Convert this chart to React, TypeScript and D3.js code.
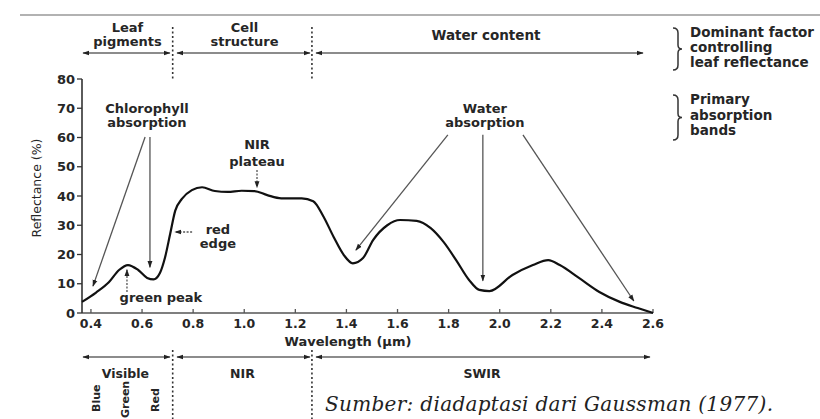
import React from 'react';
import * as d3 from 'd3';

// spectral reflectance of green leaf
const wavelength = [0.365, 0.42, 0.47, 0.51, 0.545, 0.585, 0.62, 0.645, 0.67, 0.69, 0.71, 0.73, 0.756, 0.795, 0.835, 0.885, 0.935, 0.99, 1.04, 1.09, 1.145, 1.225, 1.27, 1.31, 1.35, 1.39, 1.425, 1.465, 1.505, 1.56, 1.61, 1.675, 1.73, 1.78, 1.83, 1.88, 1.92, 1.96, 2.05, 2.13, 2.19, 2.235, 2.31, 2.39, 2.47, 2.54, 2.6];
const reflectance = [3.8, 7, 10.5, 14.7, 16.4, 14.7, 12, 11.5, 13.7, 19, 27, 35, 39, 42, 43, 41.7, 41.4, 41.8, 41.7, 40.3, 39.2, 39.2, 38.2, 33, 26, 19.8, 17, 18.8, 25, 30, 31.8, 31.5, 29, 24.3, 18, 11.3, 7.9, 7.5, 13, 16.4, 18.1, 16.4, 12, 7.2, 3.8, 1.7, 0];

const xTicks = [0.4, 0.6, 0.8, 1.0, 1.2, 1.4, 1.6, 1.8, 2.0, 2.2, 2.4, 2.6];
const yTicks = [0, 10, 20, 30, 40, 50, 60, 70, 80];

const dividers = [0.72, 1.265];
const factorLabels = [['Leaf', 'pigments'], ['Cell', 'structure'], ['Water content']];
const factorSpans = [[0.369, 0.709], [0.737, 1.257], [1.281, 2.561]];
const regionLabels = ['Visible', 'NIR', 'SWIR'];
const regionSpans = [[0.369, 0.709], [0.737, 1.257], [1.281, 2.588]];
const colorLabels = ['Blue', 'Green', 'Red'];
const colorPos = [0.418, 0.535, 0.652];

const font = '"DejaVu Sans", sans-serif';
const ink = '#262626';

export default function App() {
  const x = d3.scaleLinear().domain([0.365, 2.6]).range([82, 653]);
  const y = d3.scaleLinear().domain([0, 80]).range([313, 79]);

  const line = d3.line<number>()
    .x((d, i) => x(wavelength[i]))
    .y((d) => y(d))
    .curve(d3.curveMonotoneX);

  const brace = (x0: number, y0: number, y1: number) => {
    const x1 = x0 + 5, x2 = x0 + 9, ym = (y0 + y1) / 2;
    return `M${x0},${y0} Q${x1},${y0} ${x1},${y0 + 5} L${x1},${ym - 4} Q${x1},${ym} ${x2},${ym} Q${x1},${ym} ${x1},${ym + 4} L${x1},${y1 - 5} Q${x1},${y1} ${x0},${y1}`;
  };

  const txt = (s: string, px: number, py: number, size = 13, anchor = 'middle') => (
    <text key={s + px + py} x={px} y={py} fontSize={size} fontWeight="bold" textAnchor={anchor} fill={ink} fontFamily={font}>{s}</text>
  );

  const arrow = (w0: number, v0: number, w1: number, v1: number, dash?: string) => (
    <line key={`${w0}-${v0}-${w1}`} x1={x(w0)} y1={y(v0)} x2={x(w1)} y2={y(v1)} stroke="#555" strokeWidth={1.3} strokeDasharray={dash} markerEnd="url(#ah)" />
  );

  return (
    <svg width={820} height={419} style={{ position: 'absolute', left: 0, top: 0, background: '#fff' }}>
      <defs>
        <marker id="ah" viewBox="0 0 10 10" refX={9} refY={5} markerWidth={7} markerHeight={7} orient="auto-start-reverse" markerUnits="userSpaceOnUse">
          <path d="M0,1.5 L10,5 L0,8.5 Z" fill="#222" />
        </marker>
      </defs>

      <line x1={20} x2={820} y1={15} y2={15} stroke="#999" strokeWidth={1.5} />

      {/* dominant factor bands */}
      {factorSpans.map(([a, b], i) => (
        <g key={'f' + i}>
          <line x1={x(a)} x2={x(b)} y1={53} y2={53} stroke="#666" strokeWidth={1.3} markerStart="url(#ah)" markerEnd="url(#ah)" />
          {factorLabels[i].length === 2
            ? [txt(factorLabels[i][0], x((a + b) / 2) + 1, 32, 13), txt(factorLabels[i][1], x((a + b) / 2) + 1, 46, 13)]
            : txt(factorLabels[i][0], 486, 40, 13.5)}
        </g>
      ))}
      {dividers.map((d) => (
        <g key={'d' + d}>
          <line x1={x(d)} x2={x(d)} y1={27} y2={80} stroke="#333" strokeWidth={1.6} strokeDasharray="2,2.5" />
          <line x1={x(d)} x2={x(d)} y1={350} y2={419} stroke="#333" strokeWidth={1.6} strokeDasharray="2,2.5" />
        </g>
      ))}

      {/* right side legend */}
      <path d={brace(673, 28, 70)} fill="none" stroke="#333" strokeWidth={1.5} />
      <path d={brace(673, 95, 140)} fill="none" stroke="#333" strokeWidth={1.5} />
      {txt('Dominant factor', 690, 37, 13.5, 'start')}
      {txt('controlling', 690, 52, 13.5, 'start')}
      {txt('leaf reflectance', 690, 67, 13.5, 'start')}
      {txt('Primary', 690, 104, 13.5, 'start')}
      {txt('absorption', 690, 120, 13.5, 'start')}
      {txt('bands', 690, 135, 13.5, 'start')}

      {/* axes */}
      <line x1={x(0.365)} x2={x(2.6)} y1={y(0)} y2={y(0)} stroke="#555" strokeWidth={1.5} />
      {xTicks.map((t) => (
        <g key={'xt' + t}>
          <line x1={x(t)} x2={x(t)} y1={y(0)} y2={y(0) - 4} stroke="#555" strokeWidth={1.3} />
          {txt(d3.format('.1f')(t), x(t), 328, 12.5)}
        </g>
      ))}
      <line x1={82} x2={82} y1={y(0)} y2={y(80)} stroke="#333" strokeWidth={1.6} />
      {yTicks.map((t) => (
        <g key={'yt' + t}>
          <line x1={77} x2={82} y1={y(t)} y2={y(t)} stroke="#333" strokeWidth={1.3} />
          <text x={75} y={y(t)} dy="0.36em" fontSize={13} fontWeight="bold" textAnchor="end" fill={ink} fontFamily={font}>{t}</text>
        </g>
      ))}
      <text transform={`translate(41,${(y(0) + y(80)) / 2 - 8}) rotate(-90)`} textAnchor="middle" fontSize={12.5} fill={ink} fontFamily={font}>Reflectance (%)</text>
      {txt('Wavelength (µm)', 348, 346, 13)}

      {/* reflectance curve */}
      <path d={line(reflectance) || ''} fill="none" stroke="#111" strokeWidth={2.2} strokeLinejoin="round" />

      {/* annotations */}
      {txt('Chlorophyll', x(0.619), 113)}
      {txt('absorption', x(0.619), 127)}
      {arrow(0.612, 60.2, 0.408, 9.2)}
      {arrow(0.631, 60.2, 0.631, 15.6)}
      {arrow(0.541, 7.2, 0.541, 14.8, '2,1.5')}
      {txt('green peak', x(0.674), 302)}
      {arrow(0.796, 27.7, 0.729, 27.7, '2,1.5')}
      {txt('red', x(0.897), 234)}
      {txt('edge', x(0.897), 248)}
      {txt('NIR', x(1.05), 149)}
      {txt('plateau', x(1.05), 166)}
      {arrow(1.05, 48.9, 1.05, 42.9, '2,1.5')}
      {txt('Water', x(1.942), 113)}
      {txt('absorption', x(1.942), 127)}
      {arrow(1.797, 60.9, 1.437, 21.5)}
      {arrow(1.934, 60.9, 1.934, 11)}
      {arrow(2.091, 60.9, 2.525, 4.1)}

      {/* spectral regions */}
      {regionSpans.map(([a, b], i) => (
        <g key={'r' + i}>
          <line x1={x(a)} x2={x(b)} y1={357} y2={357} stroke="#666" strokeWidth={1.3} markerStart="url(#ah)" markerEnd="url(#ah)" />
          {txt(regionLabels[i], i === 2 ? 482 : x((a + b) / 2) - 1, 378, 12.5)}
        </g>
      ))}
      {colorLabels.map((c, i) => (
        <text key={c} transform={`translate(${x(colorPos[i]) + 4},${c === 'Green' ? 418 : 412}) rotate(-90)`} fontSize={11} fontWeight="bold" fill={ink} fontFamily={font}>{c}</text>
      ))}

      <text x={325} y={411} fontSize={20} fontStyle="italic" fill="#222" fontFamily='"DejaVu Serif", serif' textLength={448}>Sumber: diadaptasi dari Gaussman (1977).</text>
    </svg>
  );
}
